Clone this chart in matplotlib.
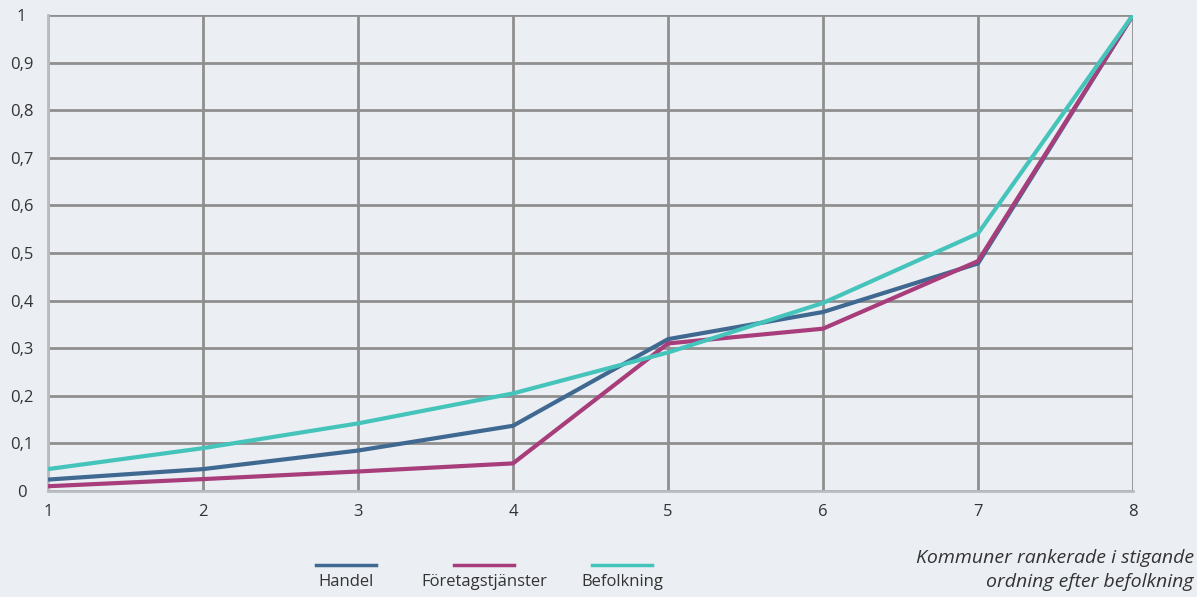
import matplotlib.pyplot as plt
from matplotlib.lines import Line2D
from matplotlib.ticker import FuncFormatter

plt.rcParams['font.family'] = ['Open Sans', 'DejaVu Sans']

# ranked municipalities 1..8, cumulative shares
rank = [1, 2, 3, 4, 5, 6, 7, 8]
handel = [0.024, 0.046, 0.085, 0.137, 0.319, 0.376, 0.478, 1.0]
foretag = [0.010, 0.025, 0.041, 0.058, 0.310, 0.341, 0.483, 1.0]
befolkning = [0.046, 0.090, 0.142, 0.205, 0.291, 0.395, 0.541, 1.0]

series_names = ['Handel', 'Företagstjänster', 'Befolkning']
series_colors = ['#3f6990', '#a83d7c', '#45c4bc']

bg = '#ebeef3'
grid_col = '#8f8f8f'
text_col = '#333333'

fig = plt.figure(figsize=(11.97, 5.97), dpi=100, facecolor=bg)
ax = fig.add_axes([48 / 1197, 1 - 491 / 597, (1133 - 48) / 1197, (491 - 15) / 597])
ax.set_facecolor(bg)

for vals, col in zip([handel, foretag, befolkning], series_colors):
    ax.plot(rank, vals, color=col, lw=3, solid_capstyle='butt', zorder=3)

ax.set_xlim(1, 8)
ax.set_ylim(0, 1)
ax.set_xticks(rank)
ax.set_yticks([i / 10 for i in range(11)])
ax.yaxis.set_major_formatter(FuncFormatter(lambda v, p: '0' if v == 0 else ('1' if v == 1 else f'{v:.1f}'.replace('.', ','))))

ax.grid(True, color=grid_col, lw=2)
ax.set_axisbelow(True)
for s in ['top', 'right']:
    ax.spines[s].set_visible(False)
for s in ['left', 'bottom']:
    ax.spines[s].set_color('#b9bcc0')
    ax.spines[s].set_linewidth(2)
ax.tick_params(length=0, labelsize=12, colors=text_col)
ax.tick_params(axis='y', pad=19)
ax.tick_params(axis='x', pad=9)
for lab in ax.get_yticklabels():
    lab.set_horizontalalignment('center')

# legend: short line above each label
legend_x = [346, 484, 622]
for name, col, cx in zip(series_names, series_colors, legend_x):
    fig.add_artist(Line2D([(cx - 30) / 1197, (cx + 30) / 1197], [1 - 565 / 597] * 2,
                          color=col, lw=2.5, transform=fig.transFigure))
    fig.text(cx / 1197, 1 - 582 / 597, name, ha='center', va='center',
             fontsize=12, color=text_col)

fig.text(1194 / 1197, 1 - 570 / 597, 'Kommuner rankerade i stigande\nordning efter befolkning',
         ha='right', va='center', fontsize=14, style='italic', color=text_col,
         linespacing=1.4)

fig.savefig('out.png', dpi=100, facecolor=bg)
